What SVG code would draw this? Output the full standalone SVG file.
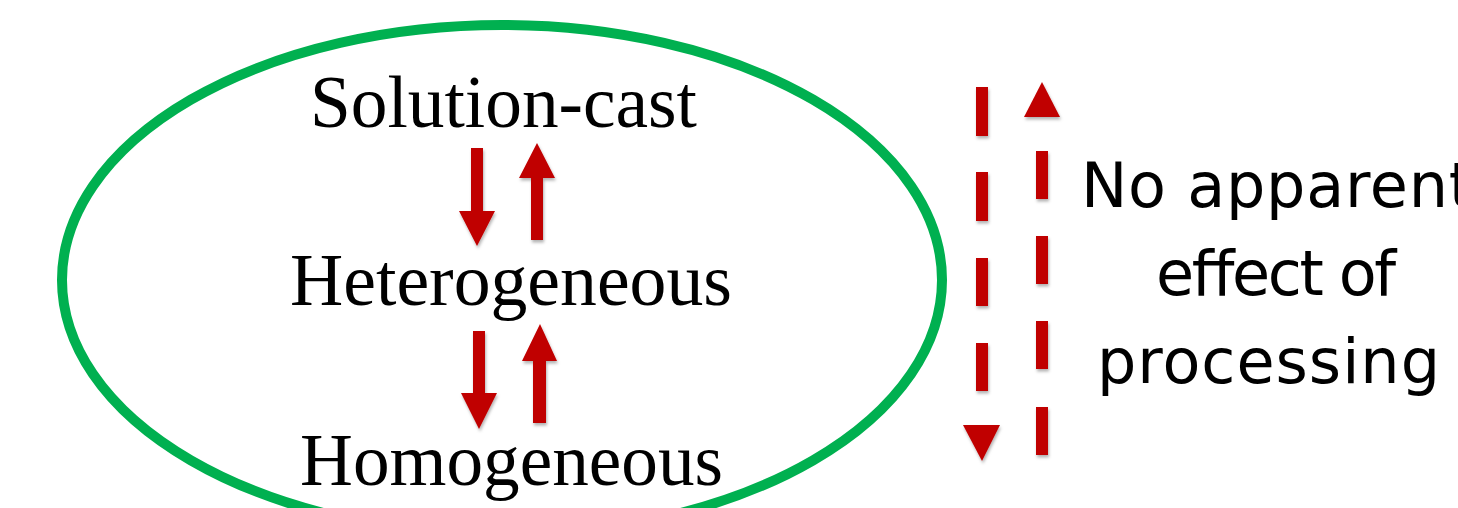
<svg xmlns="http://www.w3.org/2000/svg" width="1458" height="508" viewBox="0 0 1458 508">
  <defs>
    <filter id="shadow" x="-50%" y="-20%" width="200%" height="150%">
      <feDropShadow dx="1" dy="2.5" stdDeviation="1.5" flood-color="#000" flood-opacity="0.3"/>
    </filter>
  </defs>
  <style>
    .serif { font-family: "Liberation Serif", "Times New Roman", serif; font-size: 74px; fill: #000; }
    .sans { font-family: "DejaVu Sans", "Liberation Sans", sans-serif; font-size: 62px; fill: #000; }
    .red { fill: #C00000; filter: url(#shadow); }
  </style>
  <rect width="1458" height="508" fill="#fff"/>

  <g id="ellipse">
    <ellipse cx="502" cy="280" rx="440" ry="255" fill="none" stroke="#00B050" stroke-width="10"/>
  </g>

  <g id="node-solution-cast">
    <text class="serif" x="310" y="127" textLength="387" lengthAdjust="spacingAndGlyphs">Solution-cast</text>
  </g>
  <g id="node-heterogeneous">
    <text class="serif" x="290" y="305" textLength="442" lengthAdjust="spacingAndGlyphs">Heterogeneous</text>
  </g>
  <g id="node-homogeneous">
    <text class="serif" x="300" y="485" textLength="423" lengthAdjust="spacingAndGlyphs">Homogeneous</text>
  </g>
  <g id="node-label">
    <text class="sans" x="1081" y="207" textLength="392">No apparent</text>
    <text class="sans" x="1156" y="295" textLength="240">effect of</text>
    <text class="sans" x="1097" y="383" textLength="343">processing</text>
  </g>

  <g id="connectors">
    <!-- Solution-cast -> Heterogeneous -->
    <polygon class="red" points="471,148 483,148 483,211 495,211 477,246 459,211 471,211"/>
    <!-- Heterogeneous -> Solution-cast -->
    <polygon class="red" points="537,143 555,178 543,178 543,240 531,240 531,178 519,178"/>
    <!-- Heterogeneous -> Homogeneous -->
    <polygon class="red" points="473,331 485,331 485,393 497,393 479,429 461,393 473,393"/>
    <!-- Homogeneous -> Heterogeneous -->
    <polygon class="red" points="540,324 557,361 546,361 546,423 533,423 533,361 522,361"/>

    <!-- dashed down arrow -->
    <rect class="red" x="976" y="87" width="12" height="49"/>
    <rect class="red" x="976" y="172" width="12" height="49"/>
    <rect class="red" x="976" y="258" width="12" height="48"/>
    <rect class="red" x="976" y="343" width="12" height="48"/>
    <polygon class="red" points="963,425 1000,425 982,461"/>

    <!-- dashed up arrow -->
    <polygon class="red" points="1042,82 1060,117 1024,117"/>
    <rect class="red" x="1036" y="151" width="12" height="48"/>
    <rect class="red" x="1036" y="236" width="12" height="48"/>
    <rect class="red" x="1036" y="321" width="12" height="48"/>
    <rect class="red" x="1036" y="407" width="12" height="48"/>
  </g>
</svg>
